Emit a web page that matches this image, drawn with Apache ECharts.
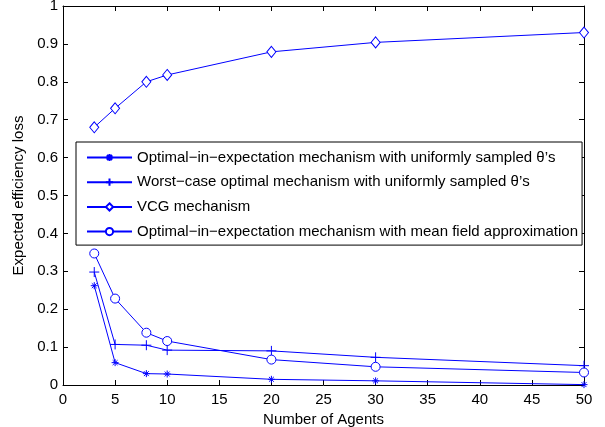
<!DOCTYPE html>
<html>
<head>
<meta charset="utf-8">
<script src="https://cdn.jsdelivr.net/npm/echarts@6/dist/echarts.min.js"></script>
<style>
  html, body { margin: 0; padding: 0; background: #fff; }
  #chart { width: 605px; height: 427px; }
</style>
</head>
<body>
<div id="chart"></div>
<script>
// number of agents
const agents = [3, 5, 8, 10, 20, 30, 50];
// expected efficiency loss per mechanism
const optUniform = [0.262, 0.059, 0.030, 0.029, 0.015, 0.011, 0.001];
const worstUniform = [0.298, 0.107, 0.105, 0.092, 0.090, 0.073, 0.051];
const vcg = [0.680, 0.730, 0.800, 0.818, 0.879, 0.904, 0.930];
const optMeanField = [0.347, 0.228, 0.138, 0.116, 0.067, 0.048, 0.033];
const seriesNames = [
  "Optimal\u2212in\u2212expectation mechanism with uniformly sampled \u03b8\u2019s",
  "Worst\u2212case optimal mechanism with uniformly sampled \u03b8\u2019s",
  "VCG mechanism",
  "Optimal\u2212in\u2212expectation mechanism with mean field approximation",
];

const blue = "#0000ff";
const starPath = "path://M5,0L5,10M0,5L10,5M1.5,1.5L8.5,8.5M8.5,1.5L1.5,8.5";
const plusPath = "path://M5,0L5,10M0,5L10,5";

function pairs(vals) {
  return agents.map((a, i) => [a, vals[i]]);
}

function mkSeries(name, vals, symbol, size) {
  return {
    name: name,
    type: "line",
    data: pairs(vals),
    symbol: symbol,
    symbolSize: size,
    showAllSymbol: true,
    lineStyle: { color: blue, width: 1 },
    itemStyle: { color: symbol.startsWith("path") ? blue : "#fff", borderColor: blue, borderWidth: 1 },
    emphasis: { disabled: true },
    z: 3,
  };
}

const chart = echarts.init(document.getElementById("chart"));
const axisLine = { show: true, onZero: false, lineStyle: { color: "#000", width: 1 } };
const tick = { inside: true, length: 5, lineStyle: { color: "#000" } };
const txt = { color: "#000", fontFamily: "Liberation Sans", fontSize: 15 };

const option = {
  animation: false,
  textStyle: { fontFamily: "Liberation Sans" },
  grid: { left: 63, right: 21, top: 6, bottom: 42, containLabel: false, outerBoundsMode: "none" },
  xAxis: [
    {
      type: "value", min: 0, max: 50, interval: 5,
      name: "Number of Agents", nameLocation: "middle", nameGap: 21,
      nameTextStyle: txt,
      axisLine: axisLine,
      axisTick: tick,
      axisLabel: Object.assign({ margin: 7 }, txt),
      splitLine: { show: false },
    },
    {
      type: "value", min: 0, max: 50, interval: 5, position: "top",
      axisLine: axisLine,
      axisTick: tick,
      axisLabel: { show: false },
      splitLine: { show: false },
    },
  ],
  yAxis: [
    {
      type: "value", min: 0, max: 1, interval: 0.1,
      name: "Expected efficiency loss", nameLocation: "middle", nameGap: 34,
      nameTextStyle: txt,
      axisLine: axisLine,
      axisTick: tick,
      axisLabel: Object.assign({ margin: 5 }, txt),
      splitLine: { show: false },
    },
    {
      type: "value", min: 0, max: 1, interval: 0.1, position: "right",
      axisLine: axisLine,
      axisTick: tick,
      axisLabel: { show: false },
      splitLine: { show: false },
    },
  ],
  legend: {
    orient: "vertical",
    left: 76, top: 142,
    padding: [8, 4, 6, 10],
    itemGap: 9.7,
    itemWidth: 45, itemHeight: 9,
    backgroundColor: "#fff",
    borderColor: "#000", borderWidth: 1,
    borderRadius: 0,
    textStyle: { color: "#000", fontFamily: "Liberation Sans", fontSize: 15 },
    selectedMode: false,
    data: seriesNames,
  },
  series: [
    mkSeries(seriesNames[0], optUniform, starPath, 7),
    mkSeries(seriesNames[1], worstUniform, plusPath, 10),
    mkSeries(seriesNames[2], vcg, "diamond", [9, 11]),
    mkSeries(seriesNames[3], optMeanField, "circle", 9),
  ],
};
chart.setOption(option);
</script>
</body>
</html>
